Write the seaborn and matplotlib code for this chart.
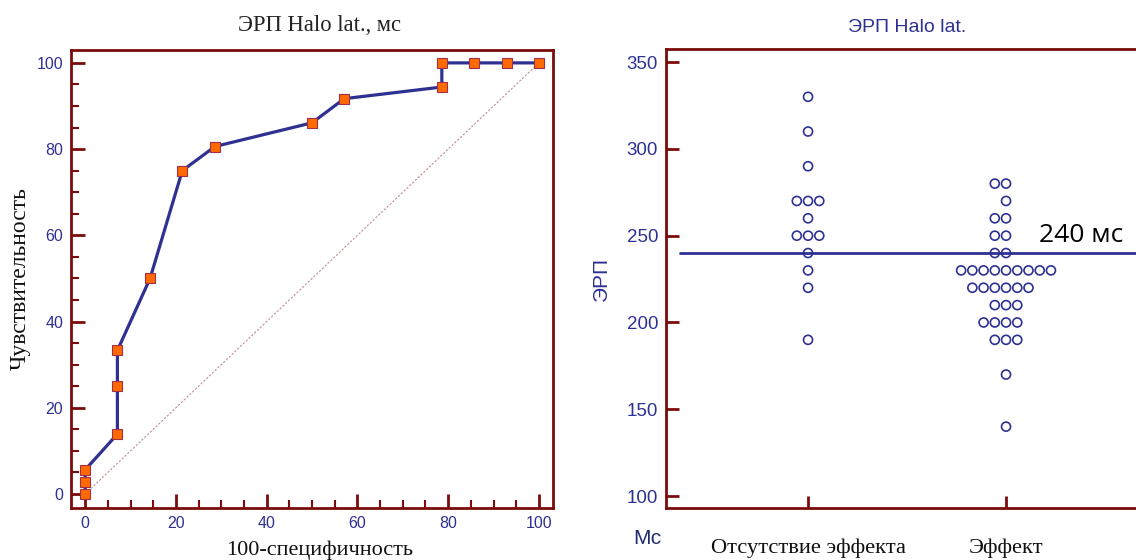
import pandas as pd
import seaborn as sns
import matplotlib.pyplot as plt
from matplotlib.ticker import MultipleLocator

# ROC curve points (100-specificity, sensitivity)
roc_fpr = [0, 0, 0, 7.1, 7.1, 7.1, 14.3, 21.4, 28.6, 50.0, 57.1, 78.6, 78.6, 85.7, 92.9, 100]
roc_tpr = [0, 2.8, 5.6, 13.9, 25.0, 33.3, 50.0, 75.0, 80.6, 86.1, 91.7, 94.4, 100, 100, 100, 100]
chance = [0, 100]

# ERP values per group, ms
groups = ['Отсутствие эффекта', 'Эффект']
erp_no_effect = [330, 310, 290, 270, 270, 270, 260, 250, 250, 250, 240, 230, 220, 190]
erp_effect = [280, 280, 270, 260, 260, 250, 250, 240, 240,
              230, 230, 230, 230, 230, 230, 230, 230, 230,
              220, 220, 220, 220, 220, 220,
              210, 210, 210, 200, 200, 200, 200, 190, 190, 190, 170, 140]
cutoff = 240

blue = '#2e3192'
frame = '#7a0c0c'
serif = 'Liberation Serif'
sans = 'Liberation Sans'

sns.set_style('white')
plt.rcParams['font.family'] = [sans, 'DejaVu Sans']

fig = plt.figure(figsize=(11.36, 5.6), dpi=100)

# ---- left: ROC curve ----
ax1 = fig.add_axes([0.0622, 0.0929, 0.4246, 0.8179])
sns.lineplot(x=chance, y=chance, ax=ax1, color='#c09090', lw=0.8,
             linestyle=(0, (2, 1.5)))
sns.lineplot(x=roc_fpr, y=roc_tpr, ax=ax1, estimator=None, sort=False,
             color=blue, lw=2.3, marker='s', markersize=7,
             markerfacecolor='#ff6a00', markeredgecolor='#a0304a', markeredgewidth=0.8)
ax1.set_xlim(-3.2, 103.1)
ax1.set_ylim(-3.25, 103.0)
ax1.xaxis.set_major_locator(MultipleLocator(20))
ax1.yaxis.set_major_locator(MultipleLocator(20))
ax1.xaxis.set_minor_locator(MultipleLocator(5))
ax1.yaxis.set_minor_locator(MultipleLocator(5))
ax1.tick_params(which='major', direction='in', length=10, width=2, color=frame,
                labelsize=11.5, labelcolor=blue, pad=5.5)
ax1.tick_params(which='minor', direction='in', length=5.5, width=1.5, color=frame)
ax1.tick_params(left=True, bottom=True, which='both')
for s in ax1.spines.values():
    s.set_color(frame)
    s.set_linewidth(2)

fig.text(0.2817, 0.955, 'ЭРП Halo lat., мс', family=serif, fontsize=16.3,
         ha='center', va='center', color='#222222')
fig.text(0.2817, 1 - 550 / 560, '100-специфичность', family=serif, fontsize=16,
         ha='center', va='center', color='#111111')
fig.text(20 / 1136, 0.502, 'Чувствительность', family=serif, fontsize=17,
         rotation=90, ha='center', va='center', color='#111111')

# ---- right: dot plot ----
df = pd.DataFrame({
    'group': [groups[0]] * len(erp_no_effect) + [groups[1]] * len(erp_effect),
    'erp': erp_no_effect + erp_effect,
})
ax2 = fig.add_axes([0.5867, 0.0934, 0.4256, 0.819])
sns.swarmplot(data=df, x='group', y='erp', order=groups, ax=ax2, color=blue,
              size=6.5, linewidth=1.2, edgecolor=blue)
for c in ax2.collections:
    c.set_facecolor('none')
    c.set_edgecolor(blue)
ax2.axhline(cutoff, xmin=0.028, xmax=1, color=blue, lw=2)
ax2.text(1.38, 250, f'{cutoff} мс', family=['Open Sans', 'DejaVu Sans'], fontsize=19,
         ha='center', va='center', color='black')

ax2.set_xlim(-0.715, 1.727)
ax2.set_ylim(93.3, 357.5)
ax2.yaxis.set_major_locator(MultipleLocator(50))
ax2.set_xlabel('')
ax2.set_ylabel('')
ax2.tick_params(axis='y', direction='in', length=9, width=2, color=frame,
                labelsize=13.5, labelcolor=blue, pad=6, left=True)
ax2.tick_params(axis='x', direction='in', length=8.5, width=2, color=frame,
                labelsize=16.2, labelcolor='#111111', pad=22, bottom=True)
for lab in ax2.get_xticklabels():
    lab.set_family(serif)
for s in ax2.spines.values():
    s.set_color(frame)
    s.set_linewidth(2)

fig.text(907 / 1136, 0.95, 'ЭРП Halo lat.', fontsize=14, ha='center', va='center',
         color=blue)
fig.text(601 / 1136, 0.502, 'ЭРП', fontsize=15, rotation=90, ha='center',
         va='center', color=blue)
fig.text(647 / 1136, 1 - 538 / 560, 'Мс', fontsize=15, ha='center', va='center',
         color='#1f2a6e')

fig.savefig('out.png', dpi=100)
